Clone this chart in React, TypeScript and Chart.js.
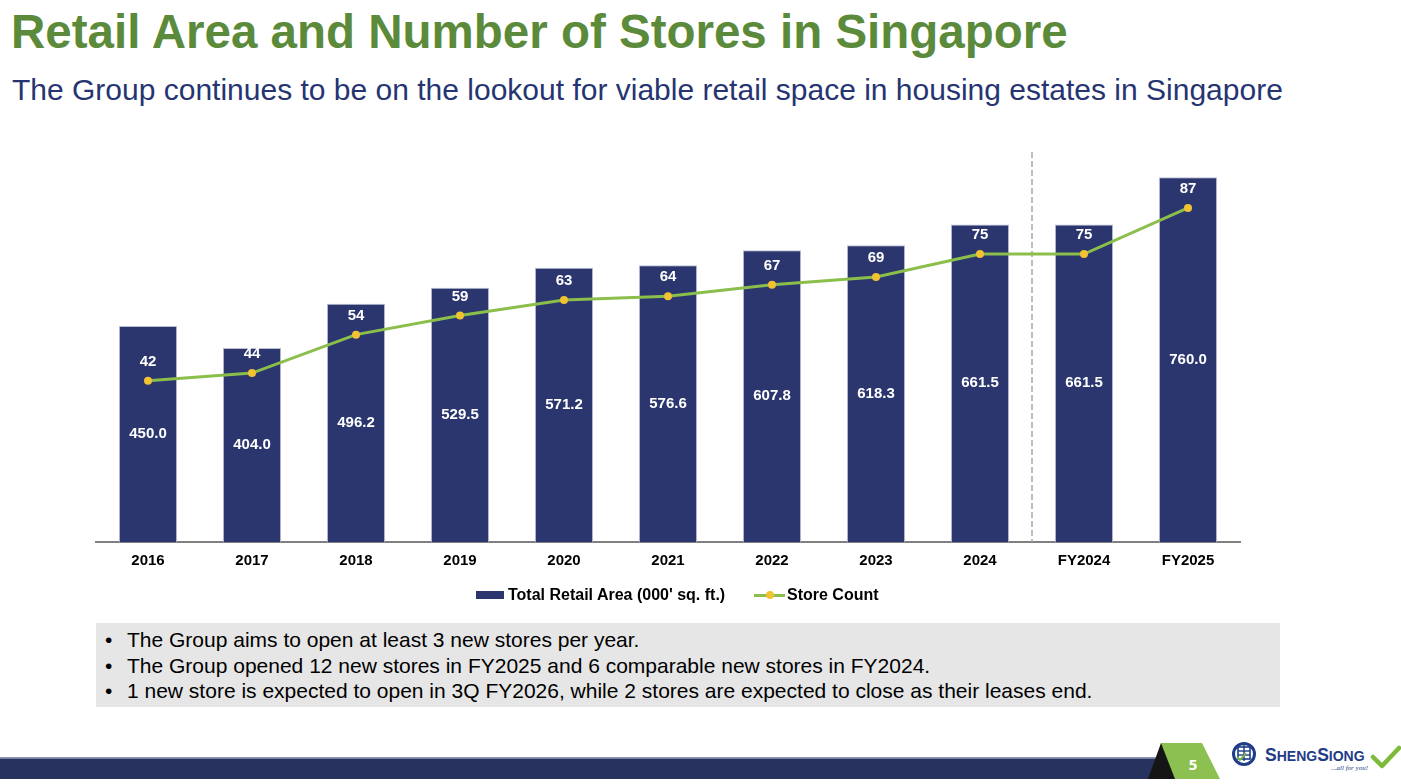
import React, { useEffect, useRef } from "react";
import { Chart, registerables } from "chart.js";

Chart.register(...registerables);

// Chart data
const categories = ["2016", "2017", "2018", "2019", "2020", "2021", "2022", "2023", "2024", "FY2024", "FY2025"];
const retailArea = [450.0, 404.0, 496.2, 529.5, 571.2, 576.6, 607.8, 618.3, 661.5, 661.5, 760.0];
const storeCount = [42, 44, 54, 59, 63, 64, 67, 69, 75, 75, 87];
const seriesNames = ["Total Retail Area (000' sq. ft.)", "Store Count"];

const bulletPoints = [
  "The Group aims to open at least 3 new stores per year.",
  "The Group opened 12 new stores in FY2025 and 6 comparable new stores in FY2024.",
  "1 new store is expected to open in 3Q FY2026, while 2 stores are expected to close as their leases end.",
];

const NAVY = "#2B366E";
const GREEN = "#8BBE4B";
const YELLOW = "#F1C232";
const FONT = "'Liberation Sans', Arial, Helvetica, sans-serif";

// Dashed divider between calendar years and fiscal years
const dividerPlugin = {
  id: "divider",
  beforeDatasetsDraw(chart: any) {
    const { ctx, chartArea, scales } = chart;
    const x = (scales.x.getPixelForValue(8) + scales.x.getPixelForValue(9)) / 2;
    ctx.save();
    ctx.strokeStyle = "#A8A8A8";
    ctx.lineWidth = 1.5;
    ctx.setLineDash([6, 3]);
    ctx.beginPath();
    ctx.moveTo(x, chartArea.top - 6);
    ctx.lineTo(x, chartArea.bottom);
    ctx.stroke();
    ctx.restore();
  },
};

// Value labels: area at bar middle, store count above each point
const valueLabelPlugin = {
  id: "valueLabels",
  afterDatasetsDraw(chart: any) {
    const { ctx } = chart;
    ctx.save();
    ctx.fillStyle = "#FFFFFF";
    ctx.font = `bold 15px ${FONT}`;
    ctx.textAlign = "center";
    ctx.textBaseline = "middle";
    const barMeta = chart.getDatasetMeta(1);
    barMeta.data.forEach((el: any, i: number) => {
      ctx.fillText(retailArea[i].toFixed(1), el.x, (el.y + el.base) / 2);
    });
    const lineMeta = chart.getDatasetMeta(0);
    lineMeta.data.forEach((el: any, i: number) => {
      ctx.fillText(String(storeCount[i]), el.x, el.y - 19);
    });
    ctx.restore();
  },
};

function RetailChart() {
  const canvasRef = useRef<HTMLCanvasElement>(null);

  useEffect(() => {
    if (!canvasRef.current) return;
    const chart = new Chart(canvasRef.current, {
      type: "bar",
      data: {
        labels: categories,
        datasets: [
          {
            type: "line",
            label: seriesNames[1],
            data: storeCount,
            yAxisID: "y1",
            order: 0,
            borderColor: GREEN,
            borderWidth: 3,
            pointBackgroundColor: YELLOW,
            pointBorderColor: YELLOW,
            pointRadius: 4,
            pointBorderWidth: 0,
            tension: 0,
          },
          {
            type: "bar",
            label: seriesNames[0],
            data: retailArea,
            yAxisID: "y",
            order: 1,
            backgroundColor: NAVY,
            borderColor: "#B9BED3",
            borderWidth: 1,
            barPercentage: 0.56,
            categoryPercentage: 1,
          },
        ],
      },
      options: {
        animation: false,
        responsive: false,
        maintainAspectRatio: false,
        layout: { padding: { left: 96, right: 161, top: 28, bottom: 10 } },
        plugins: {
          legend: { display: false },
          tooltip: { enabled: false },
        },
        scales: {
          x: {
            grid: { display: false, drawTicks: false },
            border: { display: true, color: "#808080", width: 2 },
            ticks: {
              color: "#000000",
              padding: 10,
              font: { family: FONT, size: 15, weight: "bold" },
            },
          },
          y: { display: false, min: 0, max: 800 },
          y1: { display: false, min: 0, max: 100 },
        },
      },
      plugins: [dividerPlugin, valueLabelPlugin],
    });
    return () => chart.destroy();
  }, []);

  return (
    <canvas
      ref={canvasRef}
      width={1401}
      height={460}
      style={{ position: "absolute", left: 0, top: 130, width: 1401, height: 460 }}
    />
  );
}

function Legend() {
  const text: React.CSSProperties = {
    position: "absolute",
    top: 585,
    fontFamily: FONT,
    fontWeight: "bold",
    fontSize: 16,
    lineHeight: "20px",
    color: "#000",
    whiteSpace: "nowrap",
  };
  return (
    <>
      <div style={{ position: "absolute", left: 476, top: 591, width: 28, height: 8, background: NAVY }} />
      <div style={{ ...text, left: 508 }}>{seriesNames[0]}</div>
      <div style={{ position: "absolute", left: 754, top: 593.5, width: 31, height: 3, background: GREEN }} />
      <div
        style={{
          position: "absolute",
          left: 765.5,
          top: 591,
          width: 8,
          height: 8,
          borderRadius: 4,
          background: YELLOW,
        }}
      />
      <div style={{ ...text, left: 787 }}>{seriesNames[1]}</div>
    </>
  );
}

function Footer() {
  return (
    <svg width={1401} height={54} style={{ position: "absolute", left: 0, top: 730 }}>
      <rect x={0} y={27} width={1180} height={1.5} fill="#8D96B5" />
      <rect x={0} y={28.5} width={1180} height={20.5} fill="#27325F" />
      <polygon points="1148,49 1161,13 1168,13 1176,49" fill="#151515" />
      <polygon points="1161,13 1202,13 1220,49 1175,49" fill="#8CC152" />
      <text x={1193} y={40} fill="#FFFFFF" fontSize={15} fontWeight="bold" textAnchor="middle" fontFamily="'Open Sans', sans-serif">
        5
      </text>
      {/* logo mark */}
      <circle cx={1244} cy={24} r={10.5} fill="#FFFFFF" stroke="#1F3C88" strokeWidth={3} />
      <rect x={1238} y={17} width={12} height={12} fill="none" stroke="#1F3C88" strokeWidth={1.6} />
      <line x1={1238} y1={21} x2={1250} y2={21} stroke="#1F3C88" strokeWidth={1.4} />
      <line x1={1238} y1={25} x2={1250} y2={25} stroke="#1F3C88" strokeWidth={1.4} />
      <line x1={1244} y1={15} x2={1244} y2={31} stroke="#1F3C88" strokeWidth={1.4} />
      <polyline points="1237,27 1240,30 1246,23" fill="none" stroke="#7DB843" strokeWidth={1.8} />
      <text x={1265} y={31} fill="#1F3C88" fontWeight="bold" fontFamily={FONT}>
        <tspan fontSize={17.5}>S</tspan>
        <tspan fontSize={14}>HENG</tspan>
        <tspan fontSize={17.5}>S</tspan>
        <tspan fontSize={14}>IONG</tspan>
      </text>
      <text x={1368} y={40} fill="#1F3C88" fontSize={7} fontStyle="italic" textAnchor="end" fontFamily="'Liberation Serif', serif">
        ...all for you!
      </text>
      <polyline
        points="1373,27 1382,36 1399,18"
        fill="none"
        stroke="#7DBA3A"
        strokeWidth={4.5}
        strokeLinecap="round"
        strokeLinejoin="round"
      />
    </svg>
  );
}

export default function App() {
  return (
    <div
      style={{
        position: "fixed",
        left: 0,
        top: 0,
        width: 1401,
        height: 784,
        background: "#FFFFFF",
        overflow: "hidden",
        fontFamily: FONT,
      }}
    >
      <div
        style={{
          position: "absolute",
          left: 11,
          top: 8,
          fontSize: 47.5,
          lineHeight: "47px",
          fontWeight: "bold",
          color: "#5B8A3B",
          whiteSpace: "nowrap",
        }}
      >
        Retail Area and Number of Stores in Singapore
      </div>
      <div
        style={{
          position: "absolute",
          left: 12,
          top: 75,
          fontSize: 30,
          lineHeight: "30px",
          color: "#263572",
          whiteSpace: "nowrap",
        }}
      >
        The Group continues to be on the lookout for viable retail space in housing estates in Singapore
      </div>

      <RetailChart />
      <Legend />

      <div
        style={{
          position: "absolute",
          left: 96,
          top: 623,
          width: 1184,
          height: 84,
          background: "#E6E6E6",
          boxSizing: "border-box",
          paddingTop: 4,
        }}
      >
        {bulletPoints.map((b, i) => (
          <div
            key={i}
            style={{
              position: "relative",
              fontSize: 21,
              lineHeight: "25.5px",
              color: "#000",
              paddingLeft: 31,
              whiteSpace: "nowrap",
            }}
          >
            <span style={{ position: "absolute", left: 9 }}>•</span>
            {b}
          </div>
        ))}
      </div>

      <Footer />
    </div>
  );
}
